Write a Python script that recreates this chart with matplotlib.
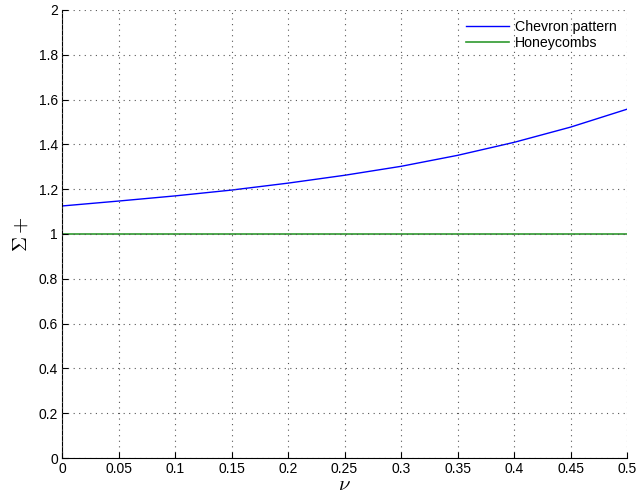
import matplotlib
matplotlib.use("Agg")
import matplotlib.pyplot as plt

plt.rcParams['font.family'] = ['Liberation Sans', 'DejaVu Sans']
plt.rcParams['mathtext.fontset'] = 'cm'

# data
nu = [0.0, 0.05, 0.1, 0.15, 0.2, 0.25, 0.3, 0.35, 0.4, 0.45, 0.5]
chevron = [1.125, 1.147, 1.170, 1.196, 1.227, 1.262, 1.302, 1.351, 1.409, 1.477, 1.557]
honeycomb = [1.0] * len(nu)

xticks = [0, 0.05, 0.1, 0.15, 0.2, 0.25, 0.3, 0.35, 0.4, 0.45, 0.5]
xticklabels = ['0', '0.05', '0.1', '0.15', '0.2', '0.25', '0.3', '0.35', '0.4', '0.45', '0.5']
yticks = [0, 0.2, 0.4, 0.6, 0.8, 1, 1.2, 1.4, 1.6, 1.8, 2]
yticklabels = ['0', '0.2', '0.4', '0.6', '0.8', '1', '1.2', '1.4', '1.6', '1.8', '2']

fig = plt.figure(figsize=(6.38, 4.98), dpi=100)
ax = fig.add_axes([0.0972, 0.0803, 0.8856, 0.8997])

ax.plot(nu, chevron, color='#0000ff', linewidth=1.0, label='Chevron pattern')
ax.plot(nu, honeycomb, color='#2f9a2f', linewidth=1.2, label='Honeycombs')

ax.set_xlim(0, 0.5)
ax.set_ylim(0, 2)
ax.set_xticks(xticks)
ax.set_xticklabels(xticklabels)
ax.set_yticks(yticks)
ax.set_yticklabels(yticklabels)

ax.grid(True, linestyle=(0, (1, 4)), color='#555555', linewidth=0.8)
ax.set_axisbelow(False)
for side in ['top', 'right']:
    ax.spines[side].set_visible(False)
ax.tick_params(direction='in', length=4, labelsize=10, colors='black', pad=3)

ax.set_xlabel(r'$\nu$', fontsize=15, labelpad=-1)
ax.set_ylabel(r'$\Sigma+$', fontsize=15, labelpad=6)

ax.legend(loc='upper right', frameon=False, fontsize=10.2, handlelength=3.0,
          handletextpad=0.45, borderaxespad=0.3, labelspacing=0.15)

plt.savefig('out.png', dpi=100)
plt.close()
